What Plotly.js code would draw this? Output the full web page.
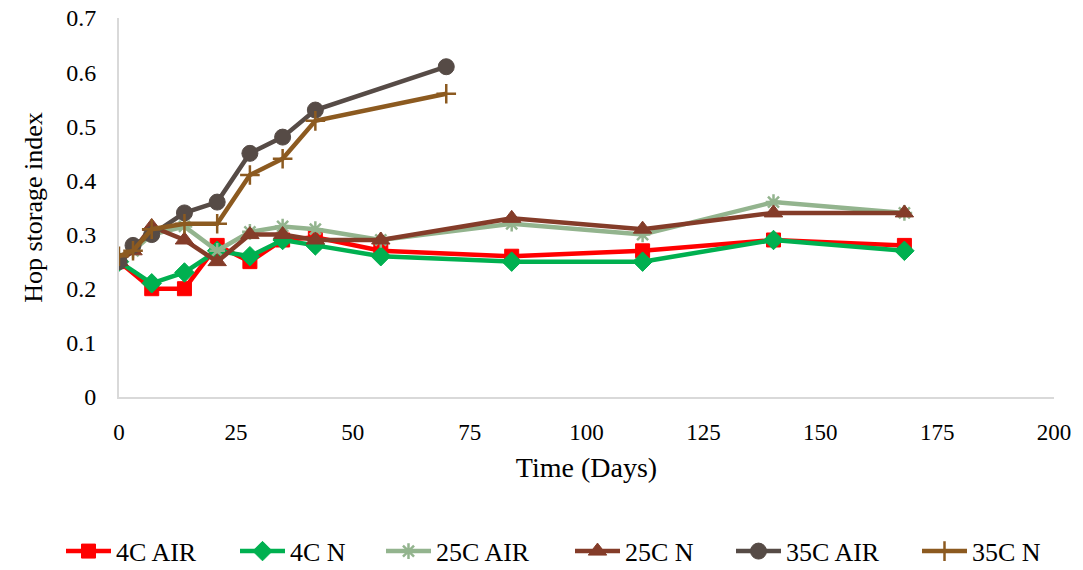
<!DOCTYPE html>
<html>
<head>
<meta charset="utf-8">
<script src="https://cdn.plot.ly/plotly-3.0.1.min.js"></script>
<style>html,body{margin:0;padding:0;background:#fff;}#chart{width:1083px;height:570px;}</style>
</head>
<body>
<div id="chart"></div>
<script>
// Days sampled
const days4C = [0, 7, 14, 21, 28, 35, 42, 56, 84, 112, 140, 168];
const days25C = [0, 3, 7, 14, 21, 28, 35, 42, 56, 84, 112, 140, 168];
const days35C = [0, 3, 7, 14, 21, 28, 35, 42, 70];

// Hop storage index values
const c4Air = [0.25, 0.20, 0.20, 0.28, 0.25, 0.29, 0.295, 0.27, 0.26, 0.27, 0.29, 0.28];
const c4N   = [0.25, 0.21, 0.23, 0.27, 0.26, 0.29, 0.28, 0.26, 0.25, 0.25, 0.29, 0.27];
const c25Air = [0.25, 0.27, 0.30, 0.315, 0.27, 0.305, 0.315, 0.31, 0.29, 0.32, 0.30, 0.36, 0.34];
const c25N   = [0.25, 0.27, 0.315, 0.29, 0.25, 0.30, 0.30, 0.29, 0.29, 0.33, 0.31, 0.34, 0.34];
const c35Air = [0.25, 0.28, 0.30, 0.34, 0.36, 0.45, 0.48, 0.53, 0.61];
const c35N   = [0.26, 0.27, 0.31, 0.32, 0.32, 0.41, 0.44, 0.51, 0.56];

const seriesNames = ["4C AIR", "4C N", "25C AIR", "25C N", "35C AIR", "35C N"];

const font = "Liberation Serif, Times New Roman, serif";
const legendIds = ['legend', 'legend2', 'legend3', 'legend4', 'legend5', 'legend6'];
// left edge (px) of each legend entry
const legendLeft = [61, 235, 381, 570, 731, 917];

function tr(i, x, y, color, symbol, msize, lw) {
  return {
    type: 'scatter', mode: 'lines+markers', name: seriesNames[i], x: x, y: y,
    legend: legendIds[i],
    line: {color: color, width: 4.5},
    marker: {color: color, symbol: symbol, size: msize, line: {color: color, width: lw}}
  };
}

const data = [
  tr(0, days4C, c4Air, '#FF0000', 'square', 14, 1),
  tr(1, days4C, c4N, '#00B050', 'diamond', 15, 1),
  tr(2, days25C, c25Air, '#93B48E', 'asterisk', 13, 2.5),
  tr(3, days25C, c25N, '#843C29', 'triangle-up', 16, 1),
  tr(4, days35C, c35Air, '#564B46', 'circle', 16, 1),
  tr(5, days35C, c35N, '#8C5A20', 'cross-thin', 14, 2.5)
];

const layout = {
  width: 1083, height: 570,
  margin: {l: 119, r: 29, t: 18, b: 173, autoexpand: false},
  paper_bgcolor: '#fff', plot_bgcolor: '#fff',
  font: {family: font, size: 22, color: '#000'},
  showlegend: true,
  xaxis: {
    range: [0, 200], tickvals: [0, 25, 50, 75, 100, 125, 150, 175, 200],
    showgrid: false, zeroline: false, showline: true, linecolor: '#D9D9D9', linewidth: 2,
    ticks: '', ticklabelstandoff: 13,
    tickfont: {family: font, size: 23},
    title: {text: 'Time (Days)', font: {family: font, size: 28}, standoff: 14}
  },
  yaxis: {
    range: [0, 0.7], tickvals: [0, 0.1, 0.2, 0.3, 0.4, 0.5, 0.6, 0.7],
    showgrid: false, zeroline: false, showline: true, linecolor: '#D9D9D9', linewidth: 2,
    ticks: '', ticklabelstandoff: 16,
    tickfont: {family: font, size: 24},
    title: {text: 'Hop storage index', font: {family: font, size: 26}, standoff: 16}
  }
};

legendIds.forEach((id, i) => {
  layout[id] = {
    orientation: 'h', xref: 'container', yref: 'container',
    x: legendLeft[i] / 1083, xanchor: 'left', y: 0.033, yanchor: 'middle',
    font: {family: font, size: 26, color: '#000'}, itemwidth: 45, bgcolor: 'rgba(0,0,0,0)'
  };
});

Plotly.newPlot('chart', data, layout, {displayModeBar: false, staticPlot: true});
</script>
</body>
</html>
